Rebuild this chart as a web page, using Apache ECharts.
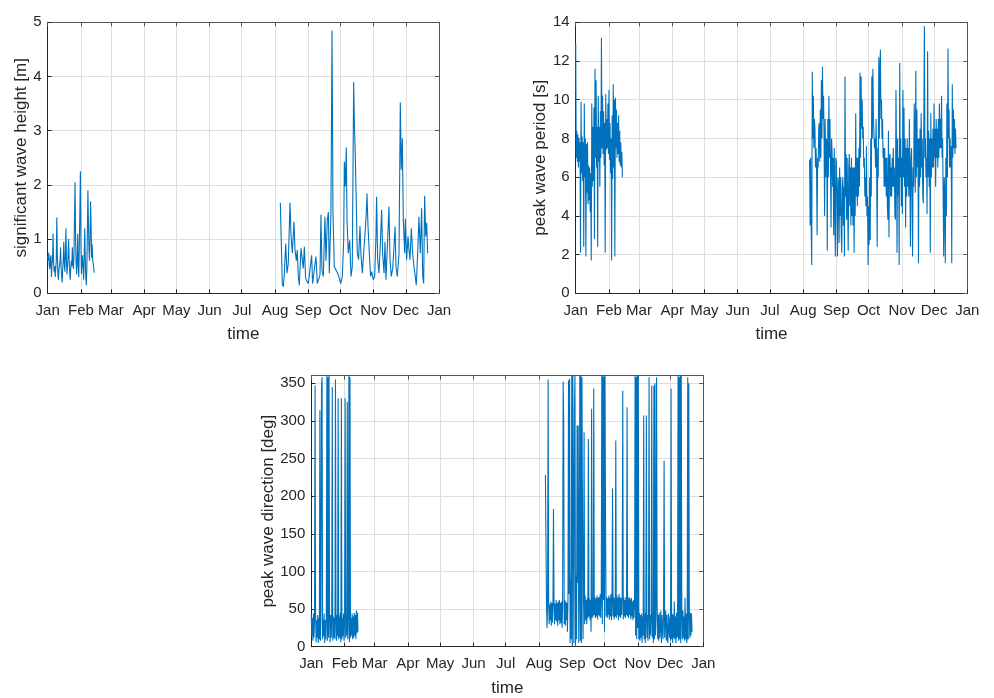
<!DOCTYPE html>
<html><head><meta charset="utf-8">
<script src="https://cdn.jsdelivr.net/npm/echarts@6/dist/echarts.min.js"></script>
<style>html,body{margin:0;padding:0;background:#fff}#c{width:994px;height:698px}</style>
</head><body><div id="c"></div>
<script>
// ---- axis categories / tick labels ----
const monthStarts = [0,31,59,90,120,151,181,212,243,273,304,334,365];
const monthNames = ['Jan','Feb','Mar','Apr','May','Jun','Jul','Aug','Sep','Oct','Nov','Dec','Jan'];

// ---- significant wave height [m] ----
// segment 1: from day 0, every 0.5 day
const hsSeg1Start = 0, hsSeg1Step = 0.5;
const hsSeg1 = [0.7,0.6,0.75,0.5,0.45,0.65,0.7,0.3,0.55,0.6,
 1.1,0.55,0.4,0.5,0.3,0.45,0.6,1.4,0.7,0.35,
 0.25,0.45,0.5,0.6,0.85,0.5,0.3,0.2,0.45,0.6,
 0.95,0.55,0.4,0.7,1.2,0.6,0.35,0.5,0.7,1.0,
 0.6,0.4,0.25,0.45,0.6,0.5,0.85,0.55,0.45,0.7,
 1.4,2.05,1.0,0.55,0.35,0.6,1.1,0.5,0.3,0.9,
 1.5,2.25,0.9,0.35,0.55,0.7,0.5,0.25,0.6,1.2,
 0.7,0.3,0.15,0.45,1.1,1.9,1.3,0.8,0.6,1.0,
 1.7,1.2,0.65,0.9,0.6,0.55,0.45,0.38];
// segment 2: [day of year, value]
const hsSeg2 = [[217.0,1.67],[218.8,0.18],[219.8,0.12],[220.7,0.35],[222.0,0.92],[223.2,0.37],[224.4,0.55],
 [226.0,1.67],[226.9,1.1],[228.2,0.74],[229.7,1.32],[230.7,0.8],[231.9,0.6],[232.8,0.8],[233.8,0.31],
 [234.7,0.15],[236.3,0.83],[237.5,0.8],[238.4,0.46],[239.4,0.86],[240.6,0.28],[241.9,0.22],[243.1,0.18],
 [244.6,0.15],[246.2,0.7],[247.1,0.18],[248.7,0.15],[250.2,0.68],[251.5,0.18],[253.0,0.15],[254.0,0.34],
 [254.9,1.45],[255.8,0.43],[257.1,0.31],[258.6,1.41],[259.6,0.6],[260.8,1.35],[261.8,1.5],[262.7,0.37],
 [264.2,1.48],[265.2,4.85],[266.1,1.5],[267.3,0.49],[268.9,0.46],[270.5,0.37],[272.0,0.28],[273.3,0.18],
 [274.8,0.31],[276.1,0.98],[276.7,2.43],[277.6,1.97],[278.5,2.69],[279.2,1.35],[280.4,0.74],[281.7,0.98],
 [282.9,0.31],[284.1,0.49],[285.4,3.9],[286.0,3.2],[286.9,2.55],[287.9,1.6],[288.8,0.74],[290.0,0.62],
 [291.3,1.24],[292.2,0.71],[293.5,0.37],[294.7,0.74],[296.0,1.1],[297.2,1.48],[297.8,1.84],[298.8,1.23],
 [300.0,0.74],[301.2,0.31],[302.2,0.4],[303.7,0.25],[305.0,0.31],[306.2,1.05],[306.8,1.78],[307.8,0.62],
 [309.0,0.37],[310.3,0.92],[311.5,1.54],[312.4,0.74],[313.7,0.37],[314.6,0.95],[315.5,0.25],[316.8,0.83],
 [318.3,1.6],[319.3,0.62],[320.5,0.31],[321.8,0.46],[322.7,0.74],[324.0,1.23],[324.9,0.49],[326.1,0.31],
 [327.7,0.74],[328.9,3.52],[329.8,2.28],[330.8,2.86],[331.7,1.35],[333.0,0.74],[333.6,1.38],[334.8,0.62],
 [336.1,1.05],[337.0,0.8],[337.9,0.62],[339.2,1.2],[340.4,0.74],[341.7,0.49],[342.9,0.31],[343.8,0.15],
 [345.1,0.74],[346.3,1.41],[347.6,0.74],[348.8,1.57],[349.8,0.31],[350.7,0.18],[351.6,1.8],[352.6,1.05],
 [353.5,1.3],[354.4,0.74]];

// ---- peak wave period [s] ---- (every 0.5 day)
const tpSeg1Start = 0, tpSeg1Step = 0.5;
const tpSeg1 = [12.9,7.0, 8.4,6.8, 8.2,6.5, 8.0,6.8, 7.8,2.1, 9.9,6.2, 8.1,5.8, 7.8,2.4, 9.8,6.0, 8.0,1.9,
 7.7,5.2, 7.8,4.6, 6.6,4.8, 6.5,4.2, 6.2,1.7, 9.8,5.5, 8.6,5.8, 9.6,2.8, 11.6,7.0, 11.0,6.5,
 8.6,2.4, 10.2,6.8, 8.6,5.5, 9.4,7.0, 13.2,7.5, 10.2,7.2, 9.4,6.6, 8.8,2.1, 10.3,7.4, 9.0,7.5,
 9.8,7.2, 10.5,6.9, 8.8,6.2, 8.0,1.7, 9.2,5.9, 10.8,6.5, 10.0,1.9, 10.1,7.5, 9.5,7.0, 8.8,7.2,
 9.2,6.8, 8.4,6.6, 7.8,6.5, 7.3,6.0];
const tpSeg2Start = 218, tpSeg2Step = 0.5;
const tpSeg2 = [6.9,3.5, 7.0,3.3, 1.46,11.45, 8.0,10.2, 7.5,9.0, 8.5,6.5, 7.5,6.5, 3.0,7.0, 6.5,8.5, 8.8,6.8,
 9.5,7.0, 11.0,8.0, 11.7,9.0, 10.2,8.0, 4.0,9.0, 6.0,8.0, 7.8,2.2, 9.0,6.0, 10.2,7.0, 9.0,6.5,
 3.4,8.0, 7.2,5.5, 7.0,3.0, 7.5,4.5, 1.9,7.0, 6.8,4.5, 1.9,6.0, 5.5,2.6, 6.5,4.0, 6.0,3.0,
 2.1,5.5, 6.0,3.5, 5.5,1.9, 11.2,5.0, 7.2,3.8, 7.0,4.5, 2.2,6.5, 7.2,4.5, 6.5,3.5, 7.0,4.0,
 6.5,3.5, 6.5,2.1, 6.5,4.0, 9.3,5.0, 7.0,4.5, 7.0,5.0, 7.5,5.5, 11.4,7.0, 11.2,8.5, 10.0,8.0,
 8.6,6.5, 7.0,5.0, 6.0,4.5, 7.6,4.0, 5.0,1.46, 4.5,2.5, 6.0,2.75, 8.0,5.0, 11.2,8.0, 11.6,9.0,
 9.0,7.5, 8.0,6.5, 9.0,6.5, 2.4,7.5, 6.0,12.2, 8.0,11.5, 12.6,9.0, 10.0,8.0, 9.0,7.0, 7.5,5.5,
 7.5,5.5, 7.0,5.0, 7.0,4.5, 3.8,8.4, 2.9,7.0, 7.2,5.0, 6.5,5.0, 7.0,5.5, 7.5,5.5, 6.5,4.0,
 3.8,10.5, 7.5,2.1, 8.0,5.0, 7.0,1.46, 11.9,6.0, 8.0,4.5, 7.0,4.1, 10.5,6.0, 9.6,5.5, 8.0,3.4,
 7.5,5.0, 8.0,5.5, 7.5,5.0, 9.0,6.0, 2.4,7.0, 7.5,5.0, 1.9,6.5, 5.5,9.8, 8.0,5.2, 11.5,6.0,
 9.5,6.5, 8.0,1.55, 8.0,5.5, 8.5,6.0, 9.3,6.5, 8.0,5.0, 4.65,9.0, 13.8,7.0, 8.0,6.0, 7.0,4.1,
 12.5,6.0, 8.4,5.5, 8.0,2.1, 9.3,6.0, 8.0,6.5, 8.5,6.5, 9.8,7.0, 8.5,5.5, 9.0,7.0, 8.5,6.5,
 9.0,7.0, 9.8,7.5, 9.0,7.5, 10.2,7.0, 8.0,5.0, 1.9,6.0, 5.0,1.55, 7.0,4.0, 9.8,6.0, 12.65,8.0,
 9.5,6.5, 8.0,6.5, 7.6,1.55, 10.8,7.0, 9.5,7.5, 9.0,7.2, 8.5,7.5];

// ---- peak wave direction [deg] ---- (every 0.5 day)
const dirSeg1Start = 0, dirSeg1Step = 0.5;
const dirSeg1 = [42,15, 38,8, 44,12, 36,347, 40,6, 35,12, 42,5, 38,10, 314,8, 40,345,
 358,10, 36,14, 44,5, 35,10, 40,360, 8,358, 12,360, 38,6, 42,12, 35,345,
 8,40, 12,38, 10,355, 36,8, 42,14, 330,10, 40,12, 45,6, 330,10, 38,14,
 44,8, 36,330, 12,42, 15,325, 10,40, 360,6, 358,12, 38,15, 44,10, 40,12,
 45,15, 42,10, 48,18, 45,20];
const dirSeg2Start = 218, dirSeg2Step = 0.5;
const dirSeg2 = [228,140, 58,25, 55,355, 62,30, 56,35, 60,28, 58,32, 55,183, 60,30, 57,35,
 62,33, 58,28, 60,35, 62,30, 58,32, 60,25, 55,352, 300,30, 62,28, 60,35,
 58,20, 65,354, 70,356, 5,90, 10,360, 0,360, 358,5, 312,360, 0,95, 10,294,
 85,294, 5,80, 360,8, 360,5, 358,360, 10,75, 285,30, 68,35, 62,30, 65,38,
 276,40, 64,35, 62,20, 316,38, 65,40, 343,42, 66,38, 64,40, 68,36, 65,42,
 66,40, 70,38, 65,360, 30,360, 62,358, 20,360, 157,40, 66,38, 64,42, 68,36,
 65,40, 70,35, 62,210, 40,66, 36,64, 40,274, 38,68, 42,65, 35,70, 40,66,
 38,64, 42,68, 340,36, 65,40, 62,38, 66,42, 318,40, 64,38, 66,42, 63,36,
 65,40, 60,35, 62,38, 58,360, 15,358, 10,360, 25,360, 10,45, 8,42, 12,44,
 5,40, 15,307, 10,45, 5,40, 307,12, 42,8, 40,358, 10,42, 15,40, 347,12,
 45,5, 347,10, 350,15, 42,358, 60,10, 42,8, 45,12, 10,48, 5,42, 40,10,
 45,247, 12,40, 48,8, 42,10, 5,44, 45,12, 40,8, 343,10, 44,5, 42,12,
 60,10, 40,5, 45,12, 15,360, 8,358, 10,360, 5,360, 42,10, 48,12, 40,8,
 65,10, 44,5, 12,358, 10,350, 42,12, 45,15, 44,20];

// ---- build ----
function uniform(start, step, vals){ return vals.map((v,i)=>[start+i*step, v]); }

const AX = '#262626', AX2 = '#555555', GRID = '#dedede', LINE = '#0072BD';
const FONT = '"Liberation Sans", Arial, Helvetica, sans-serif';
const grids = [
  {left:47.7, top:22.3, width:391.3, height:271},
  {left:575.7, top:22.3, width:391.6, height:271},
  {left:311.3, top:375.7, width:392, height:271}
];
const yDefs = [
  {name:'significant wave height [m]', max:5, interval:1, gap:14},
  {name:'peak wave period [s]', max:14, interval:2, gap:21},
  {name:'peak wave direction [deg]', max:360, interval:50, gap:30}
];
const seriesData = [
  [uniform(hsSeg1Start, hsSeg1Step, hsSeg1), hsSeg2],
  [uniform(tpSeg1Start, tpSeg1Step, tpSeg1), uniform(tpSeg2Start, tpSeg2Step, tpSeg2)],
  [uniform(dirSeg1Start, dirSeg1Step, dirSeg1), uniform(dirSeg2Start, dirSeg2Step, dirSeg2)]
];

const xAxis = [], yAxis = [], series = [];
grids.forEach((g, i) => {
  xAxis.push({type:'value', gridIndex:i, min:0, max:365, position:'bottom',
    name:'time', nameLocation:'middle', nameGap:33,
    nameTextStyle:{fontSize:17, color:AX, fontFamily:FONT},
    axisLine:{show:true, onZero:false, lineStyle:{color:AX, width:1}},
    axisTick:{show:true, inside:true, length:4, customValues:monthStarts, lineStyle:{color:AX}},
    axisLabel:{show:true, customValues:monthStarts, fontSize:15, color:AX, margin:10, fontFamily:FONT,
      formatter:v=>{const k=monthStarts.indexOf(Math.round(v)); return k>=0?monthNames[k]:'';}},
    splitLine:{show:true, lineStyle:{color:GRID, width:1}}
  });
  xAxis.push({type:'value', gridIndex:i, min:0, max:365, position:'top',
    axisLine:{show:true, onZero:false, lineStyle:{color:AX2, width:1}},
    axisTick:{show:true, inside:true, length:4, customValues:monthStarts, lineStyle:{color:AX2}},
    axisLabel:{show:false}, splitLine:{show:false}
  });
  const d = yDefs[i];
  yAxis.push({type:'value', gridIndex:i, min:0, max:d.max, interval:d.interval, position:'left',
    name:d.name, nameLocation:'middle', nameRotate:90, nameGap:d.gap,
    nameTextStyle:{fontSize:17, color:AX, fontFamily:FONT},
    axisLine:{show:true, onZero:false, lineStyle:{color:AX, width:1}},
    axisTick:{show:true, inside:true, length:4, lineStyle:{color:AX}},
    axisLabel:{fontSize:15, color:AX, margin:6, fontFamily:FONT, showMaxLabel: d.max % d.interval === 0},
    splitLine:{show:true, lineStyle:{color:GRID, width:1}}
  });
  yAxis.push({type:'value', gridIndex:i, min:0, max:d.max, interval:d.interval, position:'right',
    axisLine:{show:true, onZero:false, lineStyle:{color:AX2, width:1}},
    axisTick:{show:true, inside:true, length:4, lineStyle:{color:AX2}},
    axisLabel:{show:false}, splitLine:{show:false}
  });
  seriesData[i].forEach(seg => {
    series.push({type:'line', xAxisIndex:2*i, yAxisIndex:2*i, data:seg,
      showSymbol:false, symbol:'none', animation:false, clip:true,
      lineStyle:{color:LINE, width:1.1}, emphasis:{disabled:true}});
  });
});

const chart = echarts.init(document.getElementById('c'), null, {renderer:'canvas'});
chart.setOption({backgroundColor:'#fff', animation:false, grid:grids, xAxis, yAxis, series});
</script></body></html>
